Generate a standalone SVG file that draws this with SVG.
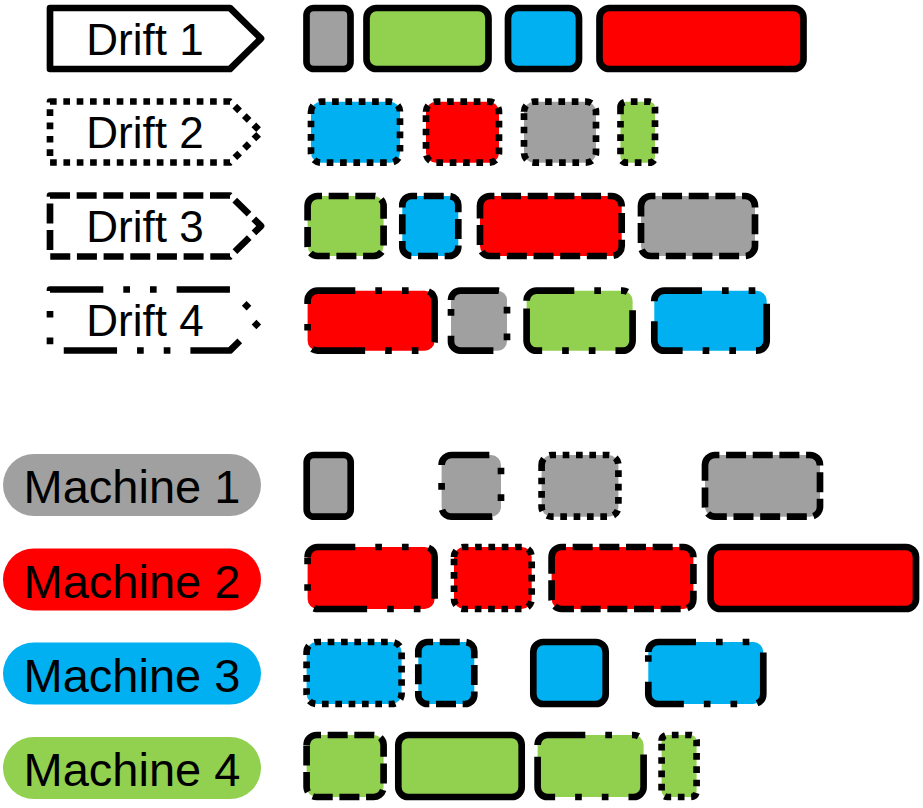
<svg xmlns="http://www.w3.org/2000/svg" width="923" height="808" viewBox="0 0 923 808">
<style>
.ln{stroke:#000;stroke-width:6.67;stroke-linejoin:round}
.s2{stroke-dasharray:6.67 6.67}
.s3{stroke-dasharray:20 6.67}
.s4{stroke-dasharray:53.3 20 6.67 20 6.67 20}
.w{fill:#fff}
.g{fill:#A0A0A0}.r{fill:#FF0000}.b{fill:#00B0F0}.gr{fill:#92D050}
.t{font-family:"Liberation Sans",Arial,sans-serif;fill:#000;text-anchor:middle}
.td{font-size:44px}.tm{font-size:47px}
</style>
<rect width="923" height="808" fill="#fff"/>
<g id="drift1"><path class="ln w" d="M50,8 H230 L261,38.5 L230,69 H50 Z"/><text class="t td" x="145" y="54.5">Drift 1</text></g>
<g id="drift2"><path class="ln w s2" d="M50,101.5 H230 L261,132 L230,162.5 H50 Z"/><text class="t td" x="145" y="148">Drift 2</text></g>
<g id="drift3"><path class="ln w s3" d="M50,195.5 H230 L261,226 L230,256.5 H50 Z"/><text class="t td" x="145" y="242">Drift 3</text></g>
<g id="drift4"><path class="ln w s4" d="M50,289.5 H230 L261,320 L230,350.5 H50 Z"/><text class="t td" x="145" y="336">Drift 4</text></g>
<g id="machine1"><rect class="g" x="3" y="454" width="258" height="62" rx="31"/><text class="t tm" x="132" y="503">Machine 1</text></g>
<g id="machine2"><rect class="r" x="3" y="548.5" width="258" height="62" rx="31"/><text class="t tm" x="132" y="597.5">Machine 2</text></g>
<g id="machine3"><rect class="b" x="3" y="642.5" width="258" height="62" rx="31"/><text class="t tm" x="132" y="691.5">Machine 3</text></g>
<g id="machine4"><rect class="gr" x="3" y="737" width="258" height="62" rx="31"/><text class="t tm" x="132" y="786">Machine 4</text></g>
<g id="drift1-bars">
<rect class="ln g" x="306.5" y="8" width="44" height="61" rx="7.3"/>
<rect class="ln gr" x="366.5" y="8" width="122" height="61" rx="10"/>
<rect class="ln b" x="508" y="8" width="71" height="61" rx="10"/>
<rect class="ln r" x="599.5" y="8" width="204" height="61" rx="10"/>
</g>
<g id="drift2-bars">
<path class="ln b s2" d="M311,111.7 A10 10 0 0 1 321,101.7 H390 A10 10 0 0 1 400,111.7 V152.7 A10 10 0 0 1 390,162.7 H321 A10 10 0 0 1 311,152.7 Z"/>
<path class="ln r s2" d="M426,111.7 A10 10 0 0 1 436,101.7 H489 A10 10 0 0 1 499,111.7 V152.7 A10 10 0 0 1 489,162.7 H436 A10 10 0 0 1 426,152.7 Z"/>
<path class="ln g s2" d="M524,111.7 A10 10 0 0 1 534,101.7 H586 A10 10 0 0 1 596,111.7 V152.7 A10 10 0 0 1 586,162.7 H534 A10 10 0 0 1 524,152.7 Z"/>
<path class="ln gr s2" d="M620.5,107.4 A5.7 5.7 0 0 1 626.2,101.7 H649.3 A5.7 5.7 0 0 1 655,107.4 V157 A5.7 5.7 0 0 1 649.3,162.7 H626.2 A5.7 5.7 0 0 1 620.5,157 Z"/>
</g>
<g id="drift3-bars">
<path class="ln gr s3" d="M307.6,206 A10 10 0 0 1 317.6,196 H373.6 A10 10 0 0 1 383.6,206 V246 A10 10 0 0 1 373.6,256 H317.6 A10 10 0 0 1 307.6,246 Z"/>
<path class="ln b s3" d="M402.3,205.3 A9.3 9.3 0 0 1 411.6,196 H449 A9.3 9.3 0 0 1 458.3,205.3 V246.7 A9.3 9.3 0 0 1 449,256 H411.6 A9.3 9.3 0 0 1 402.3,246.7 Z"/>
<path class="ln r s3" d="M480,206 A10 10 0 0 1 490,196 H611.7 A10 10 0 0 1 621.7,206 V246 A10 10 0 0 1 611.7,256 H490 A10 10 0 0 1 480,246 Z"/>
<path class="ln g s3" d="M641,206 A10 10 0 0 1 651,196 H745 A10 10 0 0 1 755,206 V246 A10 10 0 0 1 745,256 H651 A10 10 0 0 1 641,246 Z"/>
</g>
<g id="drift4-bars">
<path class="ln r s4" d="M307.6,300.7 A10 10 0 0 1 317.6,290.7 H424.6 A10 10 0 0 1 434.6,300.7 V340.7 A10 10 0 0 1 424.6,350.7 H317.6 A10 10 0 0 1 307.6,340.7 Z"/>
<path class="ln g s4" d="M451,300 A9.3 9.3 0 0 1 460.3,290.7 H497.7 A9.3 9.3 0 0 1 507,300 V341.4 A9.3 9.3 0 0 1 497.7,350.7 H460.3 A9.3 9.3 0 0 1 451,341.4 Z"/>
<path class="ln gr s4" d="M526.6,300.7 A10 10 0 0 1 536.6,290.7 H622.6 A10 10 0 0 1 632.6,300.7 V340.7 A10 10 0 0 1 622.6,350.7 H536.6 A10 10 0 0 1 526.6,340.7 Z"/>
<path class="ln b s4" d="M654.3,300.7 A10 10 0 0 1 664.3,290.7 H756.7 A10 10 0 0 1 766.7,300.7 V340.7 A10 10 0 0 1 756.7,350.7 H664.3 A10 10 0 0 1 654.3,340.7 Z"/>
</g>
<g id="machine1-bars">
<rect class="ln g" x="306.7" y="455" width="44" height="61.7" rx="7.3"/>
<path class="ln g s4" d="M441.6,464.9 A9.9 9.9 0 0 1 451.5,455 H491.1 A9.9 9.9 0 0 1 501,464.9 V506.8 A9.9 9.9 0 0 1 491.1,516.7 H451.5 A9.9 9.9 0 0 1 441.6,506.8 Z"/>
<path class="ln g s2" d="M541.6,465 A10 10 0 0 1 551.6,455 H608.4 A10 10 0 0 1 618.4,465 V506.7 A10 10 0 0 1 608.4,516.7 H551.6 A10 10 0 0 1 541.6,506.7 Z"/>
<path class="ln g s3" d="M705,465 A10 10 0 0 1 715,455 H810 A10 10 0 0 1 820,465 V506.7 A10 10 0 0 1 810,516.7 H715 A10 10 0 0 1 705,506.7 Z"/>
</g>
<g id="machine2-bars">
<path class="ln r s4" d="M307.6,557 A10 10 0 0 1 317.6,547 H424.6 A10 10 0 0 1 434.6,557 V599 A10 10 0 0 1 424.6,609 H317.6 A10 10 0 0 1 307.6,599 Z"/>
<path class="ln r s2" d="M454,557 A10 10 0 0 1 464,547 H521.7 A10 10 0 0 1 531.7,557 V599 A10 10 0 0 1 521.7,609 H464 A10 10 0 0 1 454,599 Z"/>
<path class="ln r s3" d="M551.6,557 A10 10 0 0 1 561.6,547 H683.4 A10 10 0 0 1 693.4,557 V599 A10 10 0 0 1 683.4,609 H561.6 A10 10 0 0 1 551.6,599 Z"/>
<rect class="ln r" x="710.6" y="547" width="205.4" height="62" rx="10"/>
</g>
<g id="machine3-bars">
<path class="ln b s2" d="M306.6,652 A10 10 0 0 1 316.6,642 H391.6 A10 10 0 0 1 401.6,652 V694 A10 10 0 0 1 391.6,704 H316.6 A10 10 0 0 1 306.6,694 Z"/>
<path class="ln b s3" d="M418.3,651.3 A9.3 9.3 0 0 1 427.6,642 H465 A9.3 9.3 0 0 1 474.3,651.3 V694.7 A9.3 9.3 0 0 1 465,704 H427.6 A9.3 9.3 0 0 1 418.3,694.7 Z"/>
<rect class="ln b" x="533.3" y="642" width="72.4" height="62" rx="10"/>
<path class="ln b s4" d="M648.3,652 A10 10 0 0 1 658.3,642 H753.3 A10 10 0 0 1 763.3,652 V694 A10 10 0 0 1 753.3,704 H658.3 A10 10 0 0 1 648.3,694 Z"/>
</g>
<g id="machine4-bars">
<path class="ln gr s3" d="M306.6,745 A10 10 0 0 1 316.6,735 H373.6 A10 10 0 0 1 383.6,745 V787 A10 10 0 0 1 373.6,797 H316.6 A10 10 0 0 1 306.6,787 Z"/>
<rect class="ln gr" x="398.3" y="735" width="123.4" height="62" rx="10"/>
<path class="ln gr s4" d="M537.6,745 A10 10 0 0 1 547.6,735 H633.6 A10 10 0 0 1 643.6,745 V787 A10 10 0 0 1 633.6,797 H547.6 A10 10 0 0 1 537.6,787 Z"/>
<path class="ln gr s2" d="M661.6,740.8 A5.8 5.8 0 0 1 667.4,735 H690.8 A5.8 5.8 0 0 1 696.6,740.8 V791.2 A5.8 5.8 0 0 1 690.8,797 H667.4 A5.8 5.8 0 0 1 661.6,791.2 Z"/>
</g>
<g id="connectors"/>
</svg>
